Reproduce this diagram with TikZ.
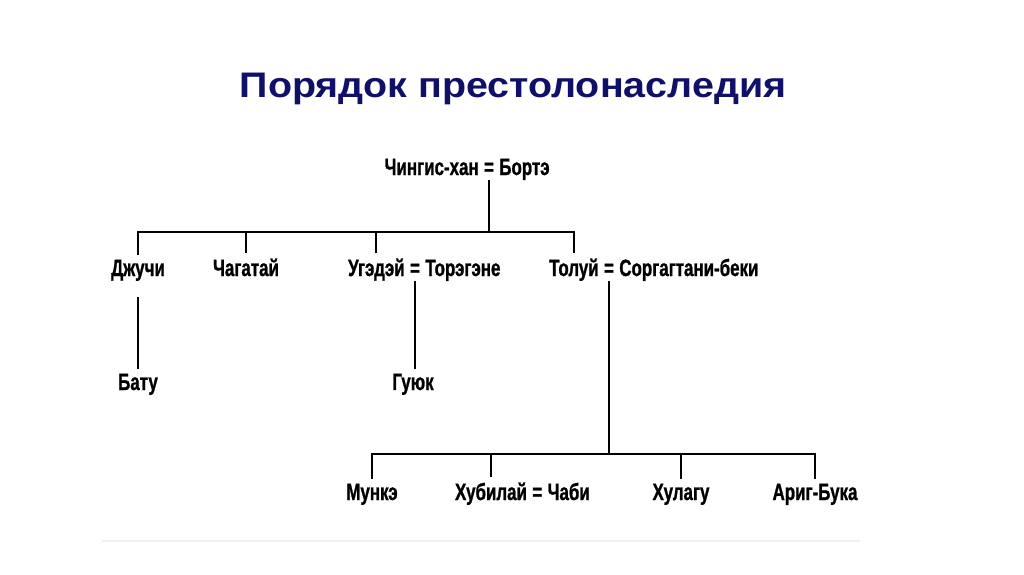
\documentclass[tikz,border=0pt]{standalone}
\usepackage{fontspec}
\setmainfont{Liberation Sans}
\newfontfamily\treefont[FakeStretch=0.72,FakeBold=1]{Liberation Sans}
\newfontfamily\titlefont[FakeStretch=1.11]{Liberation Sans}
\usetikzlibrary{positioning}
\definecolor{titleblue}{RGB}{16,16,104}
\tikzset{
  person/.style={font=\treefont\bfseries\fontsize{23.5}{24}\selectfont,inner xsep=0pt,inner ysep=5pt,anchor=base},
  link/.style={line width=2pt,black}
}
\begin{document}
\begin{tikzpicture}[x=1pt,y=-1pt]
    \fill[white] (0,0) rectangle (1024,574);
    \useasboundingbox (0,0) rectangle (1024,574);
    \node[titleblue,anchor=base,font=\titlefont\bfseries\fontsize{35.5}{38}\selectfont] (title) at (513,97) {Порядок престолонаследия};
    % Chinggis and Borte
    \node[person] (eq0) at (489,175) {=};
    \node[person,base left=5pt of eq0] (chingis) {Чингис-хан};
    \node[person,base right=5pt of eq0] (borte) {Бортэ};
    % sons
    \node[person] (jochi) at (138,276) {Джучи};
    \node[person] (chagatai) at (246,276) {Чагатай};
    \node[person] (eq1) at (415,276) {=};
    \node[person,base left=5pt of eq1] (ugedei) {Угэдэй};
    \node[person,base right=5pt of eq1] (toregene) {Торэгэне};
    \node[person] (eq2) at (609,276) {=};
    \node[person,base left=5pt of eq2] (tolui) {Толуй};
    \node[person,base right=5pt of eq2] (sorkhokhtani) {Соргагтани-беки};
    % grandsons
    \node[person] (batu) at (138,390) {Бату};
    \node[person] (guyuk) at (413,390) {Гуюк};
    \node[person] (munke) at (372,500) {Мункэ};
    \node[person] (khubilai) at (491,500) {Хубилай};
    \node[person,base right=5pt of khubilai] (eq3) {=};
    \node[person,base right=5pt of eq3] (chabi) {Чаби};
    \node[person] (hulagu) at (681,500) {Хулагу};
    \node[person] (arig) at (815,500) {Ариг-Бука};
    \coordinate (bar0) at (489,232);
    \coordinate (bar1) at (609,454);
    \draw[link] (eq0.south) -- (bar0);
    \draw[link] (jochi.north) |- (tolui.north |- bar0) -- (tolui.north);
    \draw[link] (chagatai.north) -- (chagatai.north |- bar0);
    \draw[link] (ugedei.north) -- (ugedei.north |- bar0);
    \draw[link,shorten <=11pt] (jochi.south) -- (batu.north);
    \draw[link] (eq1.south) -- (eq1.south |- guyuk.north);
    \draw[link] (eq2.south) -- (bar1);
    \draw[link] (munke.north) |- (arig.north |- bar1) -- (arig.north);
    \draw[link] (khubilai.north) -- (khubilai.north |- bar1);
    \draw[link] (hulagu.north) -- (hulagu.north |- bar1);
    \draw[gray!12,line width=2pt] (102,541) -- (860,541);
\end{tikzpicture}
\end{document}
